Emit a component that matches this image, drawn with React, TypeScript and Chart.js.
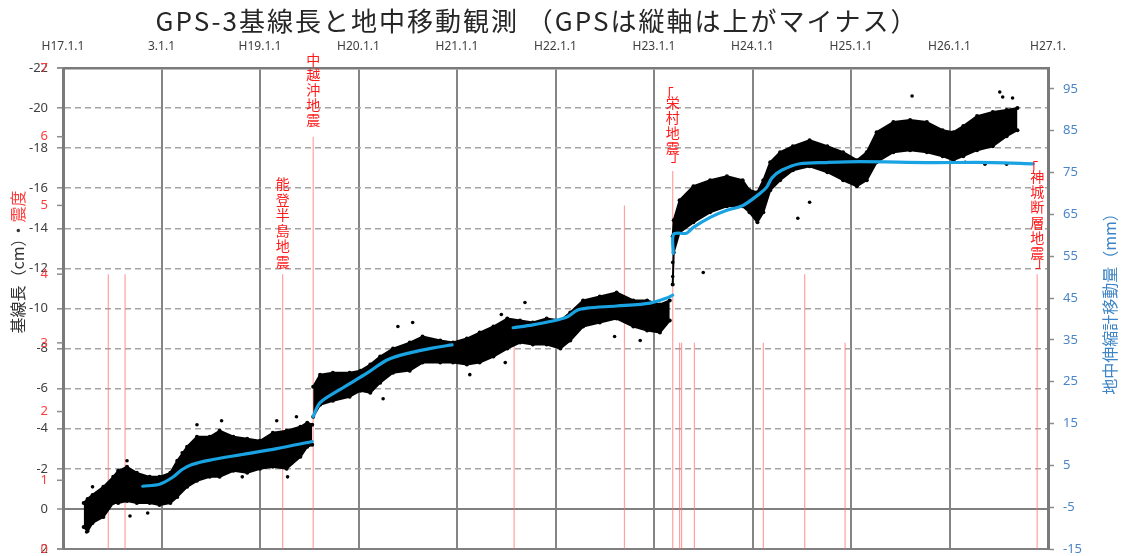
import React, { useEffect, useRef } from 'react';
import { Chart, registerables } from 'chart.js';

Chart.register(...registerables);

// ---------------- data ----------------
const TITLE = 'GPS-3基線長と地中移動観測 （GPSは縦軸は上がマイナス）';

const xTickValues = [17, 18, 19, 20, 21, 22, 23, 24, 25, 26, 27];
const xTickLabels = ['H17.1.1', '3.1.1', 'H19.1.1', 'H20.1.1', 'H21.1.1', 'H22.1.1', 'H23.1.1', 'H24.1.1', 'H25.1.1', 'H26.1.1', 'H27.1.'];
const y2TickValues = [-15, -5, 5, 15, 25, 35, 45, 55, 65, 75, 85, 95];
const intensityTickValues = [0, 1, 2, 3, 4, 5, 6, 7];

// GPS-3 baseline length (cm): upper (more negative) and lower edges of the point cloud
const gpsA_t = [17.21, 17.25, 17.30, 17.41, 17.51, 17.56, 17.65, 17.75, 17.88, 17.98, 18.09, 18.16, 18.26, 18.36, 18.49, 18.59, 18.73, 18.87, 19.00, 19.13, 19.27, 19.41, 19.48, 19.53];
const gpsA_hi = [-0.3, -0.5, -0.7, -1.1, -1.6, -1.9, -2.1, -1.8, -1.6, -1.6, -1.8, -2.4, -3.1, -3.6, -3.6, -3.9, -3.6, -3.5, -3.4, -3.8, -3.9, -4.1, -4.3, -4.2];
const gpsA_lo = [0.9, 1.1, 0.7, 0.4, -0.3, -0.3, -0.4, -0.3, -0.3, -0.2, -0.3, -0.6, -1.1, -1.4, -1.6, -1.6, -1.9, -1.8, -2.0, -2.1, -2.0, -2.6, -3.1, -3.2];

const gpsB_t = [19.54, 19.61, 19.74, 19.91, 20.02, 20.12, 20.22, 20.35, 20.52, 20.65, 20.83, 20.96, 21.10, 21.23, 21.37, 21.51, 21.64, 21.77, 21.91, 22.05, 22.15, 22.28, 22.45, 22.62, 22.79, 22.93, 23.06, 23.16];
const gpsB_hi = [-6.1, -6.7, -6.8, -6.8, -6.9, -7.2, -7.6, -8.0, -8.3, -8.6, -8.4, -8.3, -8.5, -8.8, -9.1, -9.5, -9.4, -9.3, -9.5, -9.4, -9.8, -10.4, -10.6, -10.8, -10.4, -10.4, -10.2, -10.4];
const gpsB_lo = [-4.6, -5.2, -5.4, -5.6, -5.9, -5.8, -6.3, -6.8, -6.9, -7.3, -7.3, -7.3, -7.2, -7.3, -7.6, -8.0, -8.3, -8.2, -8.2, -8.0, -8.4, -9.1, -9.3, -9.5, -9.1, -8.9, -8.8, -9.4];

const gpsC_t = [23.19, 23.20, 23.26, 23.40, 23.57, 23.74, 23.90, 23.97, 24.05, 24.11, 24.18, 24.28, 24.41, 24.58, 24.76, 24.92, 25.06, 25.16, 25.26, 25.43, 25.60, 25.77, 25.93, 26.04, 26.14, 26.28, 26.44, 26.58, 26.69];
const gpsC_hi = [-13.6, -14.4, -15.4, -16.1, -16.4, -16.6, -16.4, -15.9, -15.8, -16.4, -17.3, -17.8, -18.1, -18.4, -18.1, -17.8, -17.4, -17.8, -18.8, -19.3, -19.4, -19.3, -18.9, -18.8, -19.1, -19.6, -19.8, -19.9, -20.0];
const gpsC_lo = [-11.2, -12.8, -13.8, -14.3, -14.8, -15.1, -15.1, -14.8, -14.3, -14.8, -15.9, -16.4, -16.9, -17.1, -16.8, -16.4, -16.1, -16.4, -17.3, -17.8, -17.9, -17.8, -17.6, -17.4, -17.6, -17.9, -18.1, -18.6, -18.9];

// scattered GPS points outside the dense cloud
const gpsOut_t = [17.24, 17.30, 17.65, 17.68, 17.86, 18.21, 18.36, 18.61, 18.82, 19.17, 19.28, 19.37, 20.25, 20.40, 20.55, 21.13, 21.45, 21.49, 21.69, 22.60, 22.86, 23.19, 23.19, 23.50, 24.46, 24.58, 25.62, 26.16, 26.36, 26.51, 26.54, 26.58, 26.64];
const gpsOut_v = [1.15, -1.1, -2.4, 0.35, 0.2, -2.8, -4.2, -4.4, -1.6, -4.4, -1.6, -4.6, -5.5, -9.1, -9.3, -6.7, -9.7, -7.3, -10.3, -8.6, -8.4, -12.3, -11.6, -11.8, -14.5, -15.3, -20.6, -17.3, -17.2, -20.8, -20.55, -17.2, -20.5];

// ground extensometer (mm), right axis
const extA_t = [17.81, 17.98, 18.11, 18.21, 18.31, 18.48, 18.82, 19.17, 19.53];
const extA_v = [0.0, 0.5, 2.1, 4.0, 5.2, 6.2, 7.6, 9.0, 10.7];
const extB_t = [19.54, 19.61, 19.81, 20.09, 20.29, 20.52, 20.76, 20.95];
const extB_v = [16.7, 20.0, 23.1, 27.1, 30.2, 31.9, 33.1, 33.8];
const extC_t = [21.57, 21.77, 21.97, 22.12, 22.22, 22.32, 22.62, 22.96, 23.13, 23.19];
const extC_v = [37.9, 38.6, 39.5, 40.5, 42.1, 42.6, 43.1, 43.8, 45.0, 45.7];
const extD_t = [23.195, 23.20, 23.33, 23.40, 23.57, 23.74, 23.90, 24.07, 24.14, 24.20, 24.30, 24.48, 24.75, 25.09, 25.77, 26.44, 26.85];
const extD_v = [55.7, 60.3, 60.5, 61.9, 64.3, 66.0, 67.1, 69.9, 71.4, 73.8, 75.6, 77.1, 77.4, 77.6, 77.4, 77.4, 77.1];

// earthquakes: time and seismic intensity
const quakeT = [17.46, 17.63, 19.23, 19.54, 21.58, 22.70, 23.19, 23.26, 23.28, 23.41, 24.11, 24.53, 24.94, 26.89];
const quakeI = [4, 4, 4, 6, 3, 5, 5.5, 3, 3, 3, 3, 4, 3, 4];
const quakeNames = ['能登半島地震', '中越沖地震', '「栄村地震」', '「神城断層地震」'];
const quakeNameT = [19.23, 19.54, 23.19, 26.89];

// ---------------- helpers ----------------
const pts = (t: number[], v: number[]) => t.map((x, i) => ({ x, y: v[i] as number | null }));
const joinGaps = (...segs: { x: number; y: number | null }[][]) =>
  segs.flatMap((s, k) => (k < segs.length - 1 ? [...s, { x: s[s.length - 1].x, y: null }] : s));

const CJK = '"Noto Sans CJK JP", "Noto Sans", sans-serif';
const LAT = '"Noto Sans", "DejaVu Sans", sans-serif';

// label placement (pixels), kept apart from data
const quakeLabelLayout = [
  { top: 176, pitch: 15.5 },
  { top: 52, pitch: 15 },
  { top: 86, pitch: 15 },
  { top: 160, pitch: 15.2 },
];

const overlayPlugin = {
  id: 'overlay',
  afterDraw(chart: any) {
    const ctx: CanvasRenderingContext2D = chart.ctx;
    const xs = chart.scales.x;
    const yq = chart.scales.yEq;
    const area = chart.chartArea;
    ctx.save();

    // title
    ctx.font = `26px ${CJK}`;
    (ctx as any).letterSpacing = '2px';
    ctx.fillStyle = '#262626';
    ctx.textAlign = 'center';
    ctx.textBaseline = 'middle';
    ctx.fillText(TITLE, 537, 21);
    (ctx as any).letterSpacing = '0px';

    // seismic intensity labels (left, red)
    ctx.font = `13px ${LAT}`;
    ctx.textAlign = 'right';
    for (const v of intensityTickValues) {
      const py = yq.getPixelForValue(v);
      ctx.strokeStyle = '#8c8c8c';
      ctx.lineWidth = 1.5;
      ctx.beginPath();
      ctx.moveTo(area.left - 6, py);
      ctx.lineTo(area.left, py);
      ctx.stroke();
      ctx.fillStyle = '#ff3b3b';
      ctx.fillText(String(v), 48, py);
    }

    // earthquake names, vertical
    ctx.font = `14px ${CJK}`;
    ctx.fillStyle = '#ff1a1a';
    ctx.textAlign = 'center';
    quakeNames.forEach((name, i) => {
      const cx = xs.getPixelForValue(quakeNameT[i]);
      const lay = quakeLabelLayout[i];
      let y = lay.top;
      for (const ch of Array.from(name)) {
        const isBr = ch === '「' || ch === '」';
        const adv = isBr ? 9 : lay.pitch;
        if (ch === '「') {
          ctx.fillText(ch, cx - 6, y + 8);
        } else if (ch === '」') {
          ctx.fillText(ch, cx + 5, y + 1);
        } else {
          ctx.fillText(ch, cx, y + adv / 2);
        }
        y += adv;
      }
    });

    // left axis title (rotated, two colours)
    ctx.save();
    ctx.translate(18, 262);
    ctx.rotate(-Math.PI / 2);
    ctx.font = `16px ${CJK}`;
    ctx.textAlign = 'left';
    ctx.textBaseline = 'middle';
    const p1 = '基線長（cm）・';
    const p2 = '震度';
    const w1 = ctx.measureText(p1).width;
    const w2 = ctx.measureText(p2).width;
    const x0 = -(w1 + w2) / 2;
    ctx.fillStyle = '#333333';
    ctx.fillText(p1, x0, 0);
    ctx.fillStyle = '#ff3b3b';
    ctx.fillText(p2, x0 + w1, 0);
    ctx.restore();

    // right axis title
    ctx.save();
    ctx.translate(1110, 300);
    ctx.rotate(-Math.PI / 2);
    ctx.font = `16px ${CJK}`;
    ctx.textAlign = 'center';
    ctx.textBaseline = 'middle';
    ctx.fillStyle = '#3d85c6';
    ctx.fillText('地中伸縮計移動量（mm）', 0, 0);
    ctx.restore();

    ctx.restore();
  },
};

export default function App() {
  const ref = useRef<HTMLCanvasElement>(null);

  useEffect(() => {
    const canvas = ref.current;
    if (!canvas) return;

    const quakeData = quakeT.flatMap((t, i) => [
      { x: t, y: 0 as number | null },
      { x: t, y: quakeI[i] as number | null },
      { x: t, y: null as number | null },
    ]);

    const band = (t: number[], hi: number[], lo: number[]) => [
      {
        type: 'line',
        data: pts(t, hi),
        yAxisID: 'y',
        borderColor: '#000',
        borderWidth: 2,
        borderJoinStyle: 'round',
        pointRadius: 2,
        pointBackgroundColor: '#000',
        pointBorderWidth: 0,
        fill: false,
        order: 3,
        tension: 0,
      },
      {
        type: 'line',
        data: pts(t, lo),
        yAxisID: 'y',
        borderColor: '#000',
        borderWidth: 2,
        borderJoinStyle: 'round',
        pointRadius: 2,
        pointBackgroundColor: '#000',
        pointBorderWidth: 0,
        backgroundColor: '#000',
        fill: '-1',
        order: 3,
        tension: 0,
      },
    ];

    const noVertPad = (s: any) => {
      s.paddingTop = 0;
      s.paddingBottom = 0;
    };

    const chart = new Chart(canvas, {
      type: 'line',
      data: {
        datasets: [
          {
            type: 'line',
            data: quakeData,
            yAxisID: 'yEq',
            borderColor: 'rgba(255,110,110,0.65)',
            borderWidth: 1.2,
            pointRadius: 0,
            fill: false,
            order: 5,
          },
          ...band(gpsA_t, gpsA_hi, gpsA_lo),
          ...band(gpsB_t, gpsB_hi, gpsB_lo),
          ...band(gpsC_t, gpsC_hi, gpsC_lo),
          {
            type: 'line',
            data: pts(gpsOut_t, gpsOut_v),
            yAxisID: 'y',
            showLine: false,
            pointRadius: 1.8,
            pointBackgroundColor: '#000',
            pointBorderWidth: 0,
            order: 2,
          },
          {
            type: 'line',
            data: joinGaps(pts(extA_t, extA_v), pts(extB_t, extB_v), pts(extC_t, extC_v), pts(extD_t, extD_v)),
            yAxisID: 'y2',
            borderColor: '#19a3e3',
            borderWidth: 3.2,
            pointRadius: 0,
            fill: false,
            tension: 0.3,
            borderCapStyle: 'round',
            order: 1,
          },
        ] as any,
      },
      options: {
        animation: false,
        responsive: false,
        maintainAspectRatio: false,
        layout: { padding: { left: 0, right: 0, top: 0, bottom: 7 } },
        plugins: {
          legend: { display: false },
          tooltip: { enabled: false },
          title: { display: false },
        },
        scales: {
          x: {
            type: 'linear',
            position: 'top',
            min: 17,
            max: 27,
            afterFit: (s: any) => {
              s.height = 68;
            },
            afterBuildTicks: (s: any) => {
              s.ticks = xTickValues.map((v) => ({ value: v }));
            },
            ticks: {
              autoSkip: false,
              maxRotation: 0,
              padding: 14,
              color: '#404040',
              font: { size: 12, family: LAT },
              callback: (v: any) => {
                const i = xTickValues.indexOf(Number(v));
                return i >= 0 ? xTickLabels[i] : '';
              },
            },
            grid: { color: '#858585', lineWidth: 2, drawTicks: false },
            border: { color: '#7a7a7a', width: 2.5 },
          },
          y: {
            type: 'linear',
            position: 'left',
            min: -22,
            max: 2,
            reverse: true,
            afterFit: (s: any) => {
              s.width = 63;
              noVertPad(s);
            },
            ticks: {
              stepSize: 2,
              padding: 9,
              color: '#404040',
              font: { size: 13, family: LAT, lineHeight: 1 },
            },
            grid: {
              color: (c: any) => (c.tick && (c.tick.value === 0 || c.tick.value === 2) ? '#808080' : '#a3a3a3'),
              lineWidth: (c: any) => (c.tick && (c.tick.value === 0 || c.tick.value === 2) ? 2 : 1.6),
              tickLength: 6,
              tickColor: '#8c8c8c',
              tickWidth: 1.5,
            },
            border: {
              color: '#7a7a7a',
              width: 3,
              dash: (c: any) => (c.tick && (c.tick.value === 0 || c.tick.value === 2 || c.tick.value === -22) ? [] : [6, 4]),
            },
          },
          y2: {
            type: 'linear',
            position: 'right',
            min: -15,
            max: 100,
            afterFit: (s: any) => {
              s.width = 78;
              noVertPad(s);
            },
            afterBuildTicks: (s: any) => {
              s.ticks = y2TickValues.map((v) => ({ value: v }));
            },
            ticks: {
              padding: 9,
              color: '#4a86c5',
              font: { size: 13, family: LAT, lineHeight: 1 },
            },
            grid: { drawOnChartArea: false, tickLength: 6, tickColor: '#8c8c8c', tickWidth: 1.5 },
            border: { color: '#7a7a7a', width: 3 },
          },
          yEq: {
            type: 'linear',
            display: false,
            position: 'left',
            min: 0,
            max: 7,
            afterFit: noVertPad,
          },
        } as any,
      },
      plugins: [overlayPlugin as any],
    });

    return () => chart.destroy();
  }, []);

  return (
    <div style={{ position: 'absolute', left: 0, top: 0, width: 1126, height: 556, background: '#ffffff' }}>
      <canvas ref={ref} width={1126} height={556} style={{ display: 'block', width: 1126, height: 556 }} />
    </div>
  );
}
